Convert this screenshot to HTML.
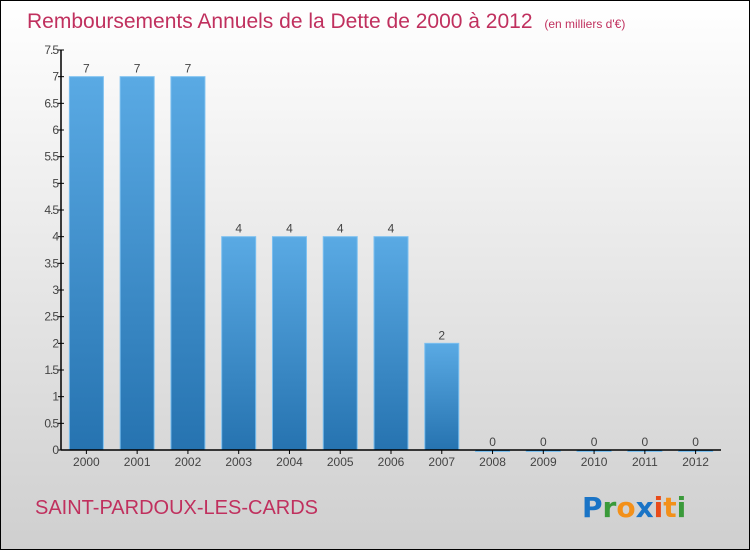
<!DOCTYPE html>
<html><head><meta charset="utf-8"><style>
body{margin:0}
#c{width:750px;height:550px;position:relative;box-sizing:border-box;border:1px solid #000;background:linear-gradient(#ffffff,#cfcfcf);font-family:"Liberation Sans",sans-serif;overflow:hidden}
</style></head><body>
<div id="c">
<svg width="750" height="550" style="position:absolute;left:-1px;top:-1px" id="svg">
<defs><linearGradient id="bg" x1="0" y1="0" x2="0" y2="1"><stop offset="0" stop-color="#5aaae4"/><stop offset="1" stop-color="#2673b0"/></linearGradient></defs>
<text x="27" y="28" font-size="21" fill="#c0305e">Remboursements Annuels de la Dette de 2000 à 2012 <tspan font-size="12" dx="6">(en milliers d'€)</tspan></text>
<text x="35" y="514" font-size="20" fill="#c0305e">SAINT-PARDOUX-LES-CARDS</text>
<g font-size="28" font-weight="bold" font-family="'DejaVu Sans',sans-serif">
<text x="582" y="517"><tspan fill="#1a74c6">P</tspan><tspan fill="#3a9a3a">r</tspan><tspan fill="#f39019">o</tspan><tspan fill="#1a74c6">x</tspan><tspan fill="#e84b1a">i</tspan><tspan fill="#f39019">t</tspan><tspan fill="#3a9a3a">i</tspan></text></g>
<g id="plot"></g>
</svg>
</div>
<script>
const categories=["2000","2001","2002","2003","2004","2005","2006","2007","2008","2009","2010","2011","2012"];
const values=[7,7,7,4,4,4,4,2,0,0,0,0,0];
const ticks=[0,0.5,1,1.5,2,2.5,3,3.5,4,4.5,5,5.5,6,6.5,7,7.5];
const NS="http://www.w3.org/2000/svg";
const g=document.getElementById('plot');
const x0=61,x1=721,y0=450,yTop=50,yMax=7.5;
const step=(x1-x0)/categories.length;
const xc=i=>x0+step*(i+0.5);
const y=v=>y0-(v/yMax)*(y0-yTop);
function mk(t,a){const e=document.createElementNS(NS,t);for(const k in a)e.setAttribute(k,a[k]);g.appendChild(e);return e;}
values.forEach((v,i)=>{
 const r=mk('rect',{x:xc(i)-17,y:y(v),width:34,height:Math.max(y0-y(v),1.5),fill:'url(#bg)',stroke:'#7cc0f0','stroke-width':1});
 
 
 const t=mk('text',{x:xc(i),y:y(v)-4,'font-size':12,fill:'#444','text-anchor':'middle'});
 t.textContent=v;
 
 
 const l=mk('text',{x:xc(i),y:y0+16,'font-size':12,fill:'#444','text-anchor':'middle'});
 l.textContent=categories[i];
 
 
 mk('line',{x1:xc(i),x2:xc(i),y1:y0,y2:y0+4,stroke:'#000'});
});
ticks.forEach(tv=>{
 mk('line',{x1:x0-3,x2:x0+3,y1:y(tv),y2:y(tv),stroke:'#000'});
 const t=mk('text',{x:x0-3,y:y(tv)+4,'font-size':12,fill:'#444','text-anchor':'end','letter-spacing':'-1'});
 t.textContent=tv;
 
 
});
const ya=mk('line',{x1:x0,x2:x0,y1:yTop,y2:y0,stroke:'#000','stroke-width':1.5});


const xa=mk('line',{x1:x0,x2:x1,y1:y0,y2:y0,stroke:'#000','stroke-width':1.5});


</script>
</body></html>
